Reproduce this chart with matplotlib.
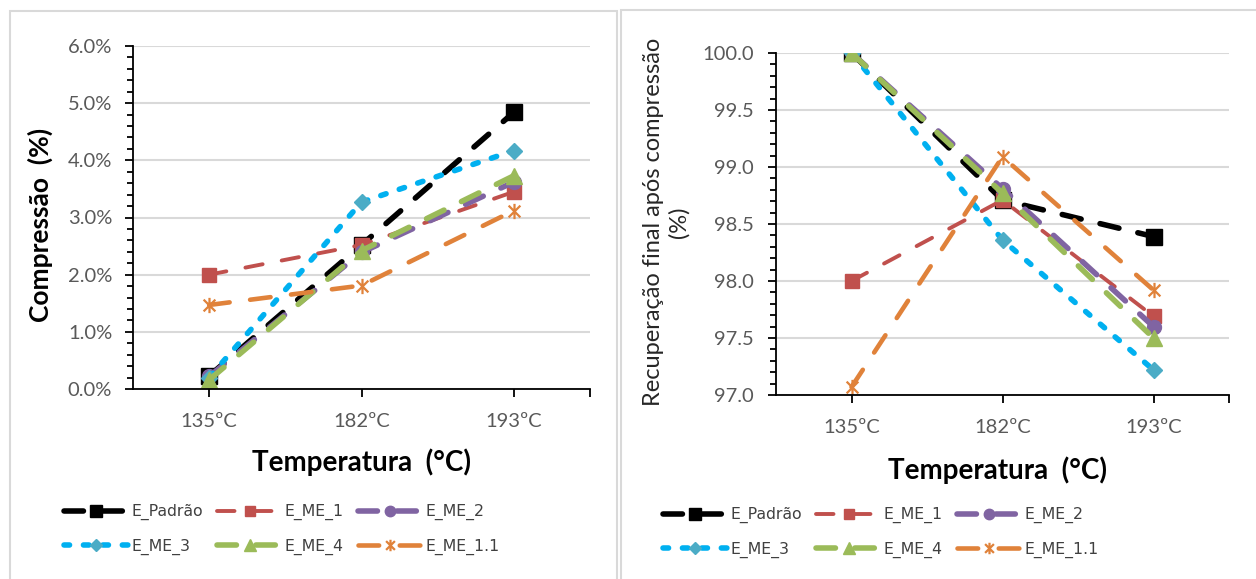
import numpy as np
from matplotlib import pyplot as plt
from matplotlib.path import Path
from matplotlib.patches import Rectangle
from matplotlib.ticker import PercentFormatter, MultipleLocator, FormatStrFormatter

# data

temperaturas = ['135ºC', '182ºC', '193ºC']
series = ['E_Padrão', 'E_ME_1', 'E_ME_2', 'E_ME_3', 'E_ME_4', 'E_ME_1.1']

# compressao (%)
comp_padrao = [0.23, 2.52, 4.84]
comp_me1 = [2.00, 2.52, 3.45]
comp_me2 = [0.22, 2.39, 3.62]
comp_me3 = [0.20, 3.27, 4.17]
comp_me4 = [0.16, 2.42, 3.73]
comp_me11 = [1.47, 1.81, 3.12]

# recuperacao final apos compressao (%)
rec_padrao = [100.0, 98.71, 98.39]
rec_me1 = [98.00, 98.71, 97.69]
rec_me2 = [100.0, 98.81, 97.60]
rec_me3 = [100.0, 98.36, 97.22]
rec_me4 = [100.0, 98.77, 97.50]
rec_me11 = [97.07, 99.09, 97.92]

compressao = [comp_padrao, comp_me1, comp_me2, comp_me3, comp_me4, comp_me11]
recuperacao = [rec_padrao, rec_me1, rec_me2, rec_me3, rec_me4, rec_me11]

# excel-like star marker (x + vertical bar)
star = Path([(-1, -1), (1, 1), (-1, 1), (1, -1), (0, -1.3), (0, 1.3)],
            [Path.MOVETO, Path.LINETO, Path.MOVETO, Path.LINETO, Path.MOVETO, Path.LINETO])

styles = [
    dict(color='black', lw=4.0, dashes=(3.5, 3.5), marker='s', ms=11, mfc='black', mec='black'),
    dict(color='#C0504D', lw=2.8, dashes=(4.5, 5.0), marker='s', ms=10, mfc='#C0504D', mec='#C0504D'),
    dict(color='#8064A2', lw=4.0, dashes=(3.5, 3.5), marker='o', ms=10, mfc='#8064A2', mec='#8064A2'),
    dict(color='#00B0F0', lw=4.0, dashes=(1, 2.5), marker='D', ms=8, mfc='#4BACC6', mec='#4BACC6'),
    dict(color='#9BBB59', lw=4.0, dashes=(3.5, 3.5), marker='^', ms=11, mfc='#9BBB59', mec='#9BBB59'),
    dict(color='#E0823A', lw=3.3, dashes=(4.5, 4.5), marker=star, ms=11, mfc='none', mec='#E0823A', mew=1.6),
]

plt.rcParams['font.family'] = ['Lato', 'DejaVu Sans']

fig = plt.figure(figsize=(12.56, 5.79), dpi=100)
W, H = 1256, 579

# panel borders
fig.patches.append(Rectangle((10 / W, -0.05), 607 / W, 1 - 11 / H + 0.05, transform=fig.transFigure,
                             fill=False, edgecolor='#D9D9D9', lw=1.5))
fig.patches.append(Rectangle((621 / W, -0.05), 0.6, 1 - 10 / H + 0.05, transform=fig.transFigure,
                             fill=False, edgecolor='#D9D9D9', lw=1.5))

ax1 = fig.add_axes([133 / W, 1 - 389 / H, 457 / W, 343 / H])
ax2 = fig.add_axes([776 / W, 1 - 395 / H, 453 / W, 342 / H])

x = np.arange(len(temperaturas))

for ax, dados in [(ax1, compressao), (ax2, recuperacao)]:
    for nome, y, st in zip(series, dados, styles):
        ax.plot(x, y, label=nome, linestyle='--', dashes=st['dashes'], color=st['color'],
                lw=st['lw'], dash_capstyle='round', marker=st['marker'], markersize=st['ms'],
                markerfacecolor=st['mfc'], markeredgecolor=st['mec'],
                markeredgewidth=st.get('mew', 1.0))
    ax.set_xlim(-0.5, 2.5)
    ax.set_xticks(x)
    ax.set_xticklabels(temperaturas)
    ax.set_xticks([2.5], minor=True)
    ax.spines['top'].set_visible(False)
    ax.spines['right'].set_visible(False)
    ax.spines['left'].set_linewidth(1.3)
    ax.spines['bottom'].set_linewidth(1.3)
    ax.grid(axis='y', color='#D9D9D9', lw=1.5)
    ax.set_axisbelow(True)
    ax.tick_params(axis='both', which='major', direction='out', length=6, width=1.3,
                   labelsize=14.5, labelcolor='#595959', color='black')
    ax.tick_params(axis='y', which='minor', direction='out', length=4.5, width=1.3)
    ax.tick_params(axis='x', which='minor', direction='out', length=6, width=1.3)
    ax.tick_params(axis='x', which='major', pad=11)

ax1.set_ylim(0, 6)
ax1.yaxis.set_major_locator(MultipleLocator(1))
ax1.yaxis.set_minor_locator(MultipleLocator(0.2))
ax1.yaxis.set_major_formatter(PercentFormatter(decimals=1))
ax1.tick_params(axis='y', which='major', pad=9)

ax2.set_ylim(97, 100)
ax2.yaxis.set_major_locator(MultipleLocator(0.5))
ax2.yaxis.set_minor_locator(MultipleLocator(0.1))
ax2.yaxis.set_major_formatter(FormatStrFormatter('%.1f'))
ax2.tick_params(axis='y', which='major', pad=10)

# axis titles
fig.text(40 / W, 1 - 225 / H, 'Compressão  (%)', rotation=90, ha='center', va='center',
         fontsize=19, fontweight='bold')
fig.text(666 / W, 1 - 222 / H, 'Recuperação final após compressão\n(%)', rotation=90,
         ha='center', va='center', multialignment='center', fontsize=17, color='#262626',
         linespacing=1.25)
fig.text(362 / W, 1 - 462 / H, 'Temperatura  (°C)', ha='center', va='center',
         fontsize=20, fontweight='bold')
fig.text(997 / W, 1 - 470 / H, 'Temperatura  (°C)', ha='center', va='center',
         fontsize=20, fontweight='bold')

# legends, reordered so they read row by row like the excel ones
h, l = ax1.get_legend_handles_labels()
ordem = [0, 3, 1, 4, 2, 5]
h = [h[i] for i in ordem]
l = [l[i] for i in ordem]
for cx, cy in [(282, 529.5), (881, 532.5)]:
    leg = fig.legend(h, l, loc='center', bbox_to_anchor=(cx / W, 1 - cy / H), ncol=3,
                     frameon=False, handlelength=4.1, handletextpad=0.2, columnspacing=0.9,
                     labelspacing=1.15, markerscale=0.75,
                     prop={'family': 'DejaVu Sans', 'size': 11.3})
    for t in leg.get_texts():
        t.set_color('#404040')

fig.savefig('out.png', dpi=100)
